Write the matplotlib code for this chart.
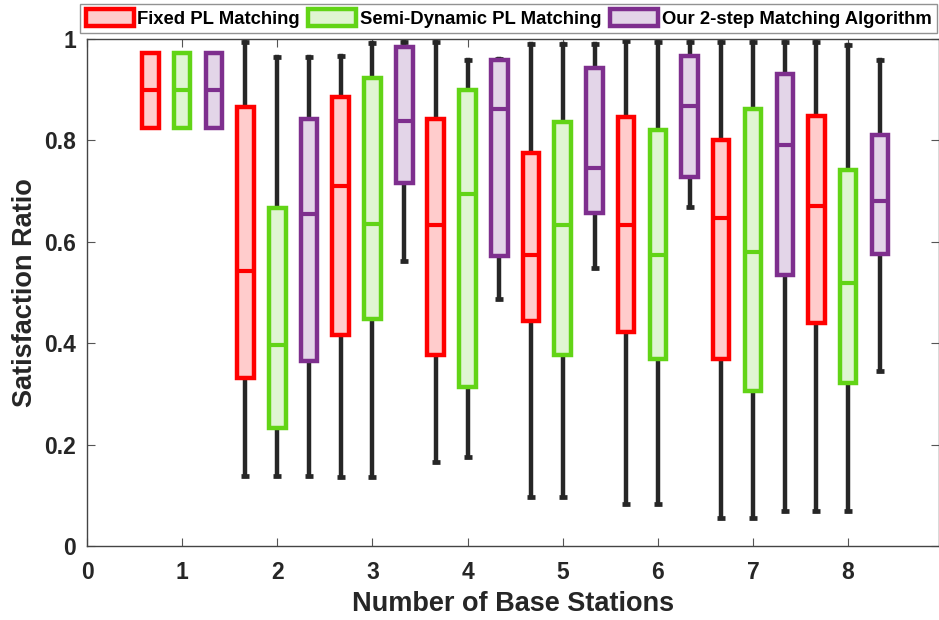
import matplotlib
matplotlib.use("Agg")
import matplotlib.pyplot as plt
from matplotlib.patches import Patch

plt.rcParams["font.family"] = ["Liberation Sans", "DejaVu Sans"]
plt.rcParams["font.weight"] = "bold"

# base-station counts on the x axis
stations = [1, 2, 3, 4, 5, 6, 7, 8]
series_names = ["Fixed PL Matching", "Semi-Dynamic PL Matching", "Our 2-step Matching Algorithm"]

# per series: whisker low, q1, median, q3, whisker high  (one entry per station count)
fixed_lo = [0.825, 0.139, 0.137, 0.165, 0.097, 0.083, 0.055, 0.069]
fixed_q1 = [0.825, 0.332, 0.417, 0.376, 0.443, 0.422, 0.368, 0.439]
fixed_med = [0.899, 0.542, 0.711, 0.634, 0.573, 0.634, 0.646, 0.670]
fixed_q3 = [0.973, 0.866, 0.885, 0.843, 0.776, 0.847, 0.801, 0.849]
fixed_hi = [0.973, 0.995, 0.967, 0.995, 0.990, 0.997, 0.995, 0.995]

semi_lo = [0.825, 0.139, 0.137, 0.176, 0.097, 0.083, 0.055, 0.069]
semi_q1 = [0.825, 0.233, 0.447, 0.314, 0.376, 0.368, 0.305, 0.321]
semi_med = [0.899, 0.397, 0.636, 0.695, 0.634, 0.573, 0.580, 0.518]
semi_q3 = [0.973, 0.667, 0.924, 0.899, 0.836, 0.820, 0.862, 0.741]
semi_hi = [0.973, 0.964, 0.992, 0.959, 0.990, 0.995, 0.995, 0.989]

ours_lo = [0.825, 0.139, 0.562, 0.487, 0.549, 0.669, 0.069, 0.345]
ours_q1 = [0.825, 0.365, 0.715, 0.572, 0.656, 0.728, 0.534, 0.575]
ours_med = [0.899, 0.654, 0.838, 0.861, 0.746, 0.867, 0.790, 0.680]
ours_q3 = [0.973, 0.842, 0.984, 0.958, 0.943, 0.966, 0.930, 0.810]
ours_hi = [0.973, 0.964, 0.994, 0.961, 0.990, 0.995, 0.995, 0.958]

series = [
    (fixed_lo, fixed_q1, fixed_med, fixed_q3, fixed_hi),
    (semi_lo, semi_q1, semi_med, semi_q3, semi_hi),
    (ours_lo, ours_q1, ours_med, ours_q3, ours_hi),
]
edge_colors = ["#FF0000", "#62D416", "#7E2F8E"]
face_colors = ["#FFCCCC", "#E0F5D2", "#E3D5E8"]
offsets = [-0.335, 0.0, 0.335]
whisk_col = "#262626"

fig = plt.figure(figsize=(9.39, 6.2), dpi=100)
ax = fig.add_axes([87 / 939, 74 / 620, 851.5 / 939, 507 / 620])

for (lo, q1, med, q3, hi), ec, fc, off in zip(series, edge_colors, face_colors, offsets):
    stats = [dict(whislo=a, q1=b, med=c, q3=d, whishi=e, fliers=[])
             for a, b, c, d, e in zip(lo, q1, med, q3, hi)]
    pos = [s + off for s in stations]
    for i, st in enumerate(stats):
        ax.bxp([st], positions=[pos[i]], widths=0.175, patch_artist=True,
               showfliers=False, showcaps=(lo[i] < q1[i]), capwidths=0.085,
               boxprops=dict(facecolor=fc, edgecolor=ec, linewidth=3.2, zorder=3),
               medianprops=dict(color=ec, linewidth=3.0, solid_capstyle="butt", zorder=4),
               whiskerprops=dict(color=whisk_col, linewidth=3.2, zorder=2),
               capprops=dict(color=whisk_col, linewidth=3.4, solid_capstyle="butt", zorder=2))

ax.set_xlim(0, 8.95)
ax.set_ylim(0, 1)
ax.set_xticks(range(0, 9))
ax.set_xticklabels([str(i) for i in range(0, 9)])
ax.set_yticks([0, 0.2, 0.4, 0.6, 0.8, 1.0])
ax.set_yticklabels(["0", "0.2", "0.4", "0.6", "0.8", "1"])
ax.tick_params(direction="in", length=6, width=0.8, color="#555555",
               labelsize=16.5, pad=8, top=True, right=True, labelcolor="#262626")
ax.tick_params(axis="x", pad=11)
for sp in ax.spines.values():
    sp.set_color("#444444")
    sp.set_linewidth(1.0)
ax.set_xlabel("Number of Base Stations", fontsize=19.5, fontweight="bold", color="#262626", labelpad=5)
ax.set_ylabel("Satisfaction Ratio", fontsize=19.5, fontweight="bold", color="#262626", labelpad=4)

handles = [Patch(facecolor=fc, edgecolor=ec, linewidth=3.2, label=n)
           for n, fc, ec in zip(series_names, face_colors, edge_colors)]
leg = fig.legend(handles=handles, loc="center", ncol=3,
                 bbox_to_anchor=(508.5 / 939, 1 - 18.5 / 620), fontsize=13.3,
                 frameon=True, fancybox=False, edgecolor="#777777",
                 handlelength=2.6, handleheight=1.05, handletextpad=0.2,
                 columnspacing=0.45, borderpad=0.3, borderaxespad=0)
leg.get_frame().set_linewidth(1.0)
for t in leg.get_texts():
    t.set_fontweight("bold")

fig.savefig("out.png", dpi=100)
